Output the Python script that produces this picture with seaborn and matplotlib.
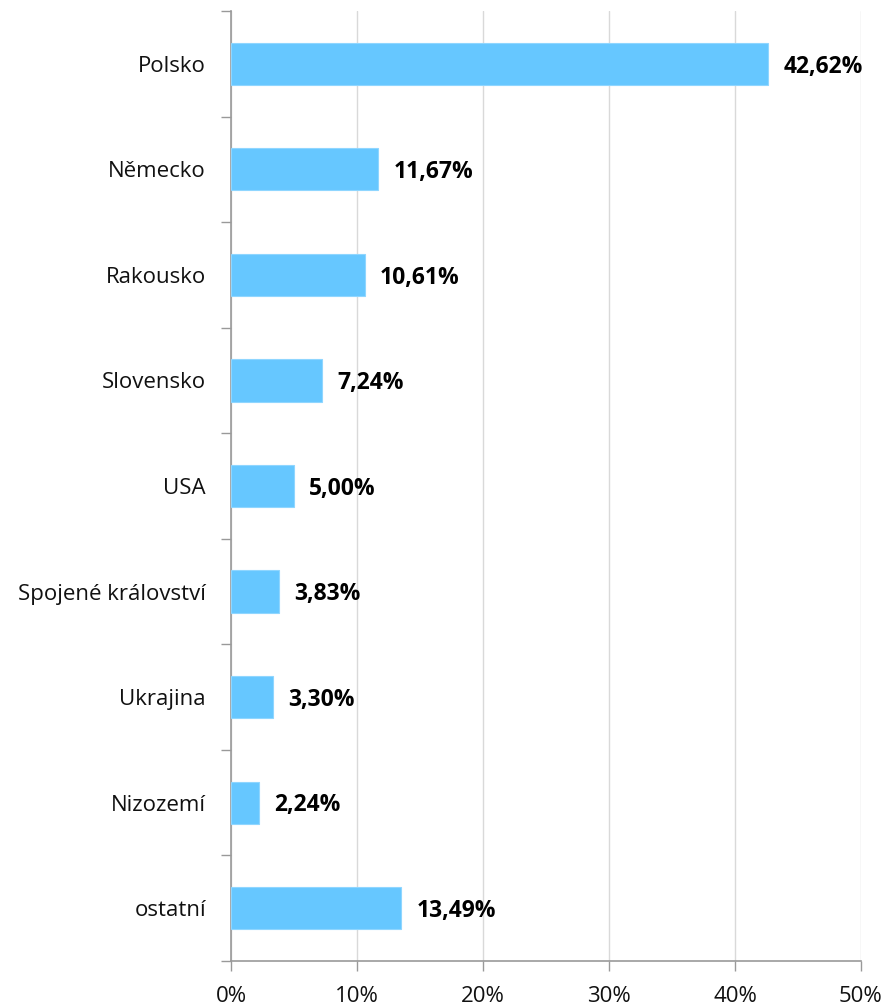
import matplotlib
matplotlib.use("Agg")
import matplotlib.pyplot as plt
import seaborn as sns
import pandas as pd
import numpy as np
from matplotlib.ticker import FixedLocator, FuncFormatter

countries = ["Polsko", "Německo", "Rakousko", "Slovensko", "USA",
             "Spojené království", "Ukrajina", "Nizozemí", "ostatní"]
shares = [42.62, 11.67, 10.61, 7.24, 5.00, 3.83, 3.30, 2.24, 13.49]
x_ticks = [0, 10, 20, 30, 40, 50]

sns.set_theme(style="white")
plt.rcParams['font.family'] = ['Open Sans', 'DejaVu Sans']

df = pd.DataFrame({"country": countries, "share": shares})

fig = plt.figure(figsize=(8.87, 10.08), dpi=100)
ax = fig.add_axes([231/887, 1-961/1008, 630/887, 950/1008])

sns.barplot(data=df, y="country", x="share", orient="h", color="#66C7FF",
            saturation=1, width=0.4, ax=ax, zorder=3, edgecolor="#8fd6ff", linewidth=0.8)

ax.set_xlim(0, 50)
ax.set_ylim(len(countries) - 0.5, -0.5)
ax.set_xticks(x_ticks)
ax.xaxis.set_major_formatter(FuncFormatter(lambda v, p: f"{int(v)}%"))
ax.grid(axis="x", color="#d9d9d9", linewidth=1, zorder=0)
ax.set_axisbelow(True)

# category ticks: hide major, put minor at boundaries
ax.tick_params(axis="y", which="major", length=0, pad=18, labelsize=16, labelcolor="#111111")
ax.yaxis.set_minor_locator(FixedLocator(np.arange(-0.5, len(countries), 1.0)))
ax.tick_params(axis="y", which="minor", length=7, width=1, color="#999999", left=True)
ax.tick_params(axis="x", which="major", length=7, width=1, color="#999999", bottom=True,
               labelsize=16, labelcolor="#111111", pad=11)

for s in ["top", "right"]:
    ax.spines[s].set_visible(False)
for s in ["left", "bottom"]:
    ax.spines[s].set_color("#999999")
    ax.spines[s].set_linewidth(1.2)

ax.set_xlabel("")
ax.set_ylabel("")

for i, v in enumerate(shares):
    ax.annotate(f"{v:.2f}%".replace(".", ","), xy=(v, i), xytext=(11, -2),
                textcoords="offset points", ha="left", va="center",
                fontsize=16.5, fontweight="bold", color="#000000")

fig.savefig("out.png", dpi=100)
